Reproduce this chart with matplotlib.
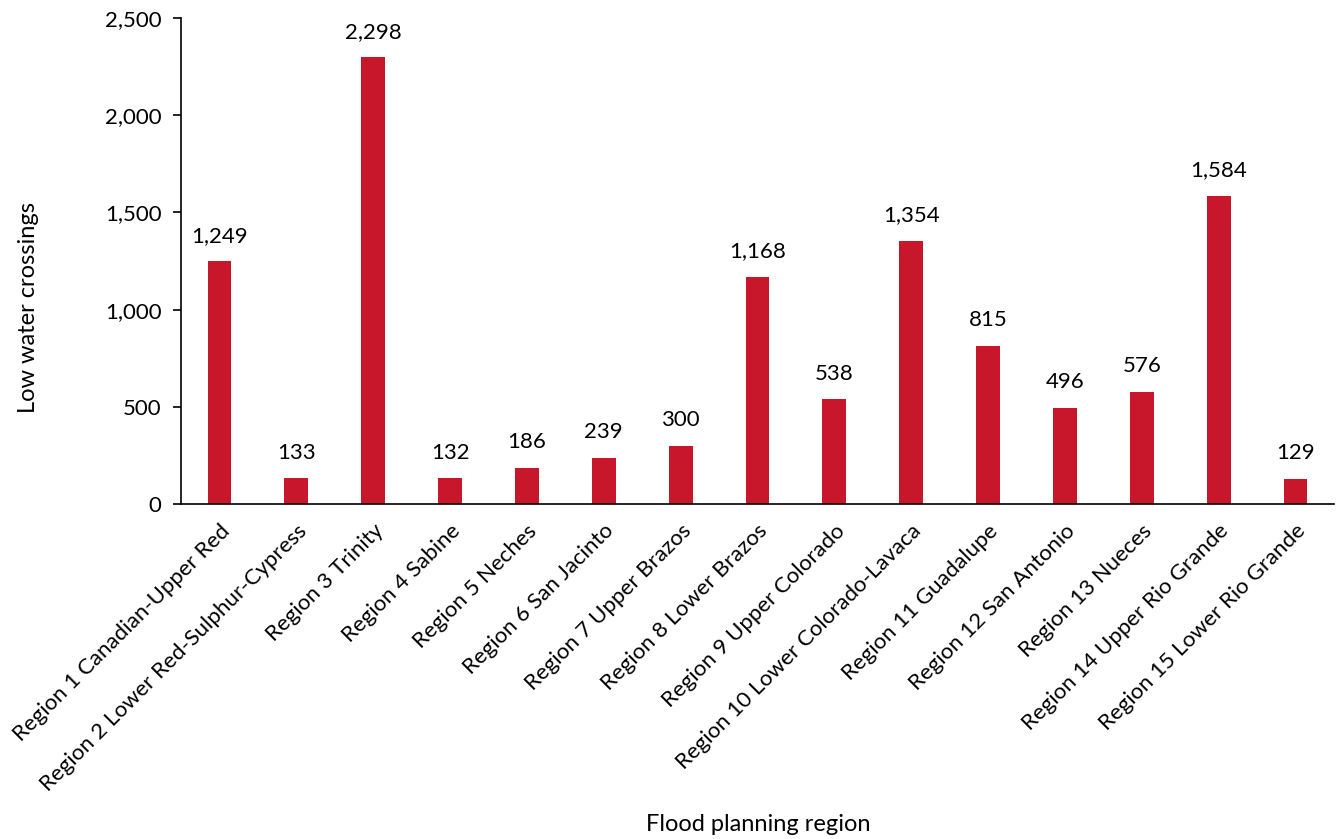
import matplotlib.pyplot as plt
import numpy as np

plt.rcParams['font.family'] = ['Lato', 'DejaVu Sans']

regions = ['Region 1 Canadian-Upper Red', 'Region 2 Lower Red-Sulphur-Cypress',
           'Region 3 Trinity', 'Region 4 Sabine', 'Region 5 Neches',
           'Region 6 San Jacinto', 'Region 7 Upper Brazos', 'Region 8 Lower Brazos',
           'Region 9 Upper Colorado', 'Region 10 Lower Colorado-Lavaca',
           'Region 11 Guadalupe', 'Region 12 San Antonio', 'Region 13 Nueces',
           'Region 14 Upper Rio Grande', 'Region 15 Lower Rio Grande']
crossings = [1249, 133, 2298, 132, 186, 239, 300, 1168, 538, 1354, 815, 496, 576, 1584, 129]

fig = plt.figure(figsize=(13.38, 8.39), dpi=100)
ax = fig.add_axes([0.1353, 0.3993, 0.8617, 0.5792])

x = np.arange(len(regions))
bars = ax.bar(x, crossings, width=0.31, color='#C8162B')
for xi, v in zip(x, crossings):
    ax.text(xi, v + 80, f'{v:,}', ha='center', va='bottom', fontsize=16)

ax.set_xlim(-0.5, len(regions) - 0.5)
ax.set_ylim(0, 2500)
ax.set_yticks(np.arange(0, 2501, 500))
ax.set_yticklabels([f'{t:,}' for t in range(0, 2501, 500)], fontsize=16)
ax.set_xticks(x)
ax.set_xticklabels(regions, rotation=45, ha='right', rotation_mode='anchor', fontsize=16)
ax.tick_params(axis='x', length=0, pad=12)
ax.tick_params(axis='y', length=6, width=1.2, direction='out', pad=8)
for s in ['top', 'right']:
    ax.spines[s].set_visible(False)
ax.spines['left'].set_linewidth(1.2)
ax.spines['bottom'].set_linewidth(1.2)

# axis titles
fig.text(0.021, 0.634, 'Low water crossings', rotation=90, ha='center', va='center', fontsize=17)
fig.text(0.567, 0.005, 'Flood planning region', ha='center', va='bottom', fontsize=17)

fig.savefig('out.png', dpi=100)
